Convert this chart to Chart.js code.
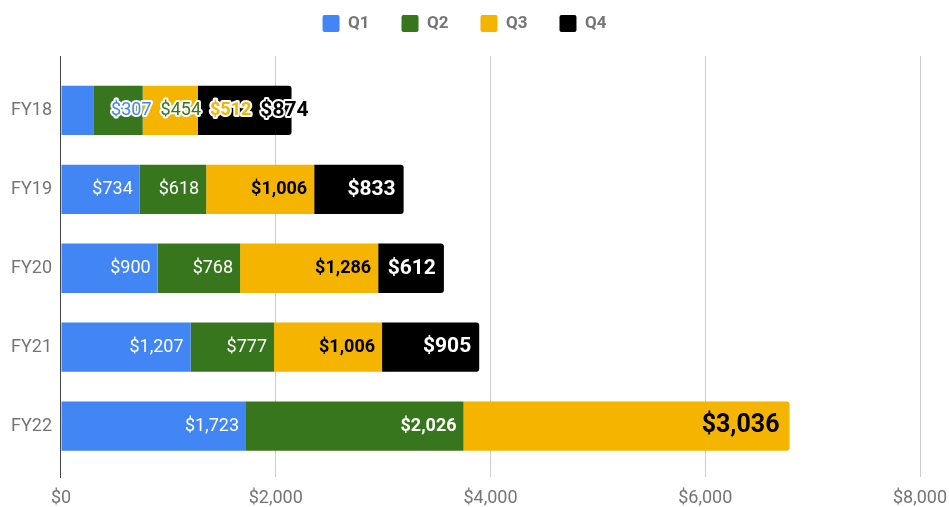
<!DOCTYPE html>
<html>
<head>
<meta charset="utf-8">
<script src="https://cdn.jsdelivr.net/npm/chart.js@4"></script>
<style>
  html, body { margin: 0; padding: 0; background: #fff; }
  #wrap { width: 949px; height: 507px; }
</style>
</head>
<body>
<div id="wrap"><canvas id="fyChart"></canvas></div>
<script>
const categories = ["FY18", "FY19", "FY20", "FY21", "FY22"];
const q1 = [307, 734, 900, 1207, 1723];
const q2 = [454, 618, 768, 777, 2026];
const q3 = [512, 1006, 1286, 1006, 3036];
const q4 = [874, 833, 612, 905];
const xTicks = [0, 2000, 4000, 6000, 8000];

const colors = ["#4285F4", "#38761D", "#F4B400", "#000000"];
const money = (v) => "$" + v.toLocaleString("en-US");

// label look per series, FY22 gets bigger text in sheets
function labelStyle(d, i) {
  let s = [
    { weight: 400, size: 18, color: "#fff" },
    { weight: 400, size: 18, color: "#fff" },
    { weight: 700, size: 18, color: "#000" },
    { weight: 700, size: 21, color: "#fff" },
  ][d];
  if (i === 4 && d === 1) s = { weight: 700, size: 18, color: "#fff" };
  if (i === 4 && d === 2) s = { weight: 700, size: 25, color: "#000" };
  return s;
}

const valueLabels = {
  id: "valueLabels",
  afterDatasetsDraw(chart) {
    const ctx = chart.ctx;
    ctx.save();
    ctx.textBaseline = "middle";
    ctx.textAlign = "right";
    categories.forEach((cat, i) => {
      const segs = [];
      chart.data.datasets.forEach((ds, d) => {
        const el = chart.getDatasetMeta(d).data[i];
        if (!el) return;
        const st = labelStyle(d, i);
        const font = st.weight + " " + st.size + "px Roboto";
        ctx.font = font;
        const text = money(ds.data[i].x);
        const w = ctx.measureText(text).width;
        const pad = Math.round(st.size * 0.4);
        segs.push({ text, w, pad, font, st, start: el.base, end: el.x, y: el.y, fill: colors[d] });
      });
      const allFit = segs.every(s => s.w + s.pad * 2 <= s.end - s.start);
      if (allFit) {
        segs.forEach(s => {
          ctx.font = s.font;
          ctx.fillStyle = s.st.color;
          ctx.fillText(s.text, s.end - s.pad, s.y);
        });
      } else {
        // labels do not fit: chain them past the bar end with a white halo
        let right = segs[segs.length - 1].end + 17;
        for (let k = segs.length - 1; k >= 0; k--) {
          const s = segs[k];
          ctx.font = s.font;
          ctx.lineWidth = 4;
          ctx.lineJoin = "round";
          ctx.strokeStyle = "#fff";
          ctx.strokeText(s.text, right, s.y);
          ctx.fillStyle = s.fill;
          ctx.fillText(s.text, right, s.y);
          right -= s.w + 9;
        }
      }
    });
    ctx.restore();
  },
};

const series = [q1, q2, q3, q4];
const datasets = series.map((vals, d) => ({
  label: "Q" + (d + 1),
  data: vals.map((v, i) => ({ x: v, y: i })),
  backgroundColor: colors[d],
  borderWidth: 0,
  borderRadius: 3,
  barPercentage: 0.625,
  categoryPercentage: 1,
}));

new Chart(document.getElementById("fyChart"), {
  type: "bar",
  data: { datasets },
  plugins: [valueLabels],
  options: {
    indexAxis: "y",
    responsive: true,
    maintainAspectRatio: false,
    animation: false,
    layout: { padding: { top: -17, left: 2, right: 22, bottom: -12 } },
    plugins: {
      tooltip: { enabled: false },
      legend: {
        position: "top",
        labels: {
          color: "#757575",
          font: { family: "Roboto", size: 17, weight: "bold" },
          boxWidth: 17,
          boxHeight: 17,
          padding: 32,
          useBorderRadius: true,
          borderRadius: 2,
        },
      },
    },
    scales: {
      x: {
        type: "linear",
        stacked: true,
        min: 0,
        max: 8000,
        afterBuildTicks: (scale) => { scale.ticks = xTicks.map(v => ({ value: v })); },
        afterFit: (scale) => { scale.paddingRight = 29; },
        grid: { color: "#cccccc", drawTicks: false },
        border: { display: false },
        ticks: {
          color: "#757575",
          padding: 10,
          font: { family: "Roboto", size: 18 },
          callback: (v) => money(v),
        },
      },
      // empty spacer between legend and plot
      xTop: {
        type: "linear",
        axis: "x",
        position: "top",
        min: 0,
        max: 8000,
        grid: { display: false },
        border: { display: false },
        ticks: { display: false },
        afterFit: (scale) => { scale.height = 14; },
      },
      y: {
        type: "linear",
        stacked: true,
        reverse: true,
        offset: false,
        min: -0.69,
        max: 4.65,
        afterBuildTicks: (scale) => { scale.ticks = categories.map((c, i) => ({ value: i })); },
        grid: { drawOnChartArea: false, drawTicks: false },
        border: { display: true, color: "#444444", width: 1 },
        ticks: {
          color: "#757575",
          padding: 9,
          font: { family: "Roboto", size: 18 },
          callback: (v) => categories[v],
        },
      },
    },
  },
});
</script>
</body>
</html>
